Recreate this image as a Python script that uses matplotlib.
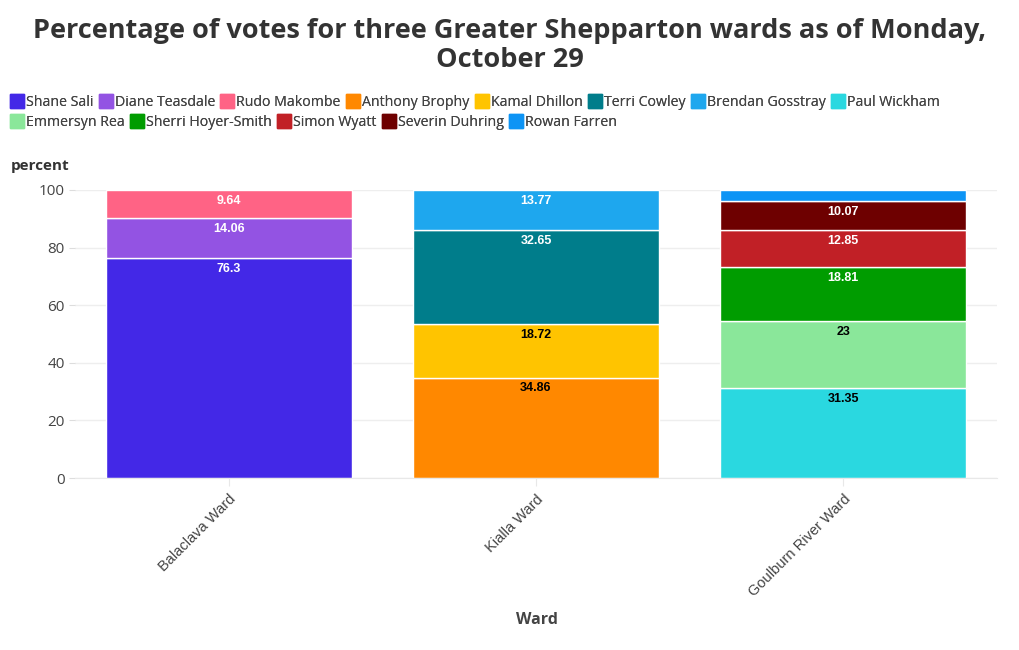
import numpy as np
import matplotlib.pyplot as plt
from matplotlib.lines import Line2D

plt.rcParams['font.family'] = ['Open Sans', 'DejaVu Sans']

wards = ['Balaclava Ward', 'Kialla Ward', 'Goulburn River Ward']

# candidate -> (ward index, percent)
candidates = ['Shane Sali', 'Diane Teasdale', 'Rudo Makombe',
              'Anthony Brophy', 'Kamal Dhillon', 'Terri Cowley', 'Brendan Gosstray',
              'Paul Wickham', 'Emmersyn Rea', 'Sherri Hoyer-Smith', 'Simon Wyatt',
              'Severin Duhring', 'Rowan Farren']
cand_ward = [0, 0, 0, 1, 1, 1, 1, 2, 2, 2, 2, 2, 2]
percent = [76.3, 14.06, 9.64,
           34.86, 18.72, 32.65, 13.77,
           31.35, 23, 18.81, 12.85, 10.07, 3.92]
show_label = [True] * 12 + [False]

colors = ['#4328e7', '#9353e3', '#ff6385', '#ff8800', '#ffc400', '#007d8b', '#1ea7ee',
          '#2ad8e0', '#8ae79a', '#009c00', '#c12026', '#6e0000', '#0d94f5']
label_colors = ['white', 'white', 'white', 'black', 'black', 'white', 'white',
                'black', 'black', 'white', 'white', 'white', 'white']

fig = plt.figure(figsize=(10.2, 6.5), dpi=100)
ax = fig.add_axes([0.0735, 0.2646, 0.904, 0.4431])

bottoms = np.zeros(len(wards))
for i, name in enumerate(candidates):
    w = cand_ward[i]
    ax.bar(w, percent[i], bottom=bottoms[w], width=0.8, color=colors[i],
           edgecolor='white', linewidth=1, zorder=2)
    top = bottoms[w] + percent[i]
    if show_label[i]:
        ax.annotate(f'{percent[i]:g}', (w, top), xytext=(0, -3.5), textcoords='offset points',
                    ha='center', va='top', fontsize=9, fontweight='bold',
                    color=label_colors[i], family=['Liberation Sans', 'DejaVu Sans'])
    bottoms[w] = top

ax.set_xlim(-0.5, 2.5)
ax.set_ylim(0, 100)
ax.set_yticks([0, 20, 40, 60, 80, 100])
ax.set_xticks(range(len(wards)))
ax.set_xticklabels(wards, rotation=45, ha='right', rotation_mode='anchor',
                   family=['Liberation Sans', 'DejaVu Sans'], fontsize=10.5, color='#444444')
ax.tick_params(axis='y', length=4, color='#dddddd', labelsize=11, labelcolor='#444444')
ax.tick_params(axis='x', length=6, color='#e8e8e8', pad=4)
ax.grid(axis='y', color='#eeeeee', linewidth=1, zorder=0)
ax.set_axisbelow(True)
for s in ['top', 'right', 'left']:
    ax.spines[s].set_visible(False)
ax.spines['bottom'].set_color('#e8e8e8')

fig.text(0.5, 0.972, 'Percentage of votes for three Greater Shepparton wards as of Monday,\nOctober 29',
         ha='center', va='top', fontsize=19.5, fontweight='bold', color='#333333', linespacing=1.15)
fig.text(11 / 1020, 1 - 166 / 650, 'percent', ha='left', va='center', fontsize=11,
         fontweight='bold', color='#333333')
fig.text(537 / 1020, 1 - 620 / 650, 'Ward', ha='center', va='center', fontsize=11.5,
         fontweight='bold', color='#444444')

def make_handles(idx):
    return [Line2D([], [], marker='s', linestyle='none', markersize=10,
                   markerfacecolor=colors[k], markeredgecolor=colors[k]) for k in idx]

rows = [list(range(0, 8)), list(range(8, 13))]
for r, idx in enumerate(rows):
    leg = fig.legend(make_handles(idx), [candidates[k] for k in idx],
                     loc='center left', bbox_to_anchor=(0.002, 1 - (102 + 20 * r) / 650),
                     ncol=len(idx), frameon=False, fontsize=10.2, handlelength=0.7,
                     handletextpad=0.3, columnspacing=0.5, borderaxespad=0.3)
    for t in leg.get_texts():
        t.set_color('#444444')
    fig.add_artist(leg)

fig.savefig('out.png', dpi=100)
